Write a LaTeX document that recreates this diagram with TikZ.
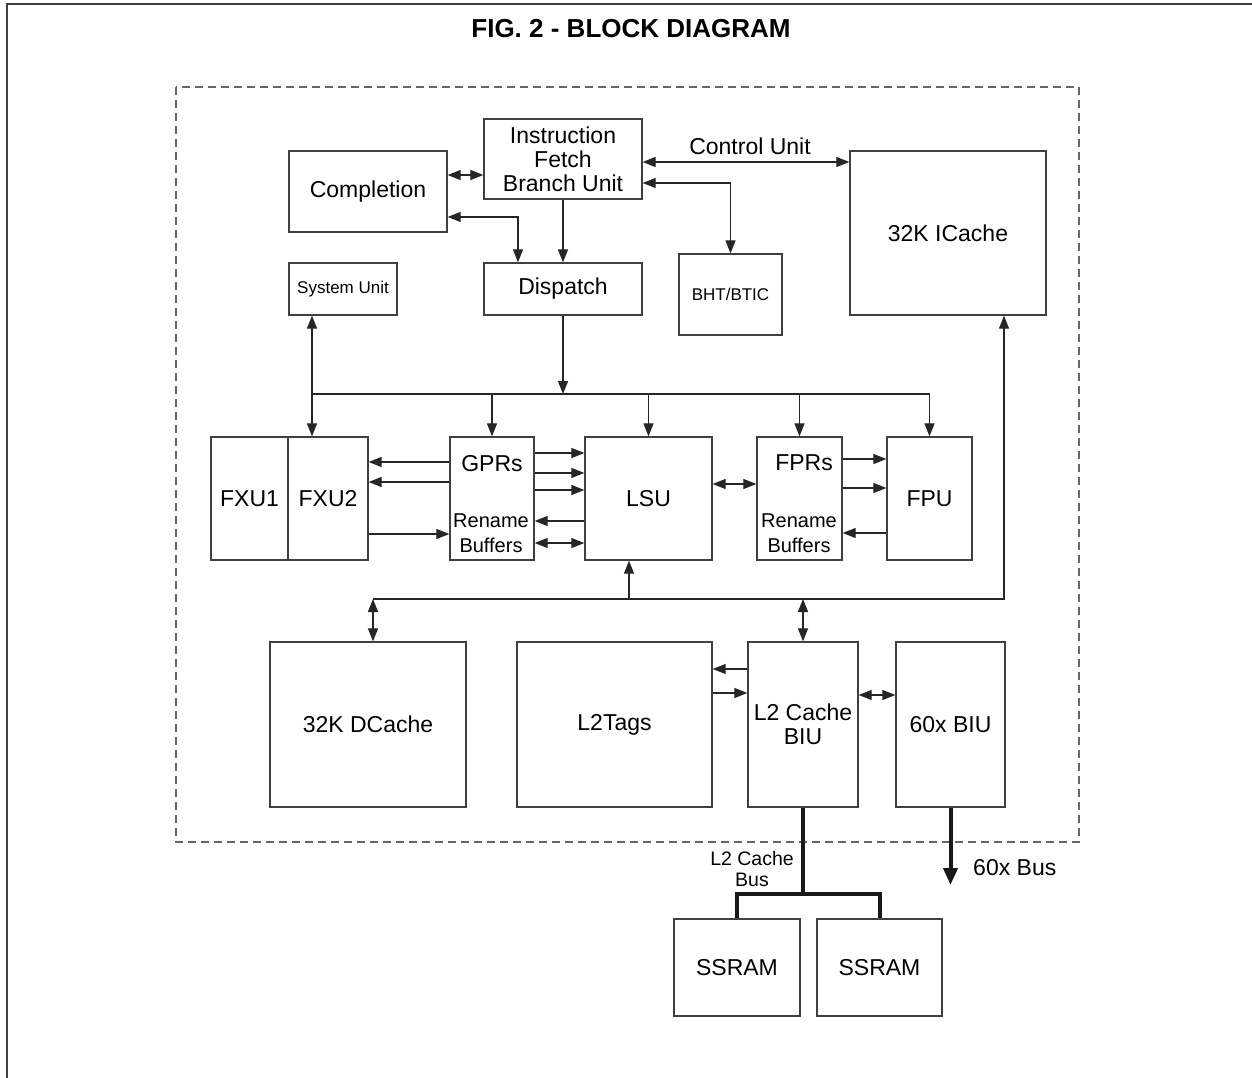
\documentclass[tikz,border=0pt]{standalone}
\usepackage{fontspec}
\setmainfont{Liberation Sans}
\usetikzlibrary{arrows.meta,calc}
\begin{document}
\begin{tikzpicture}[x=1pt,y=-1pt,
  box/.style={draw=black!75, line width=1.3pt, inner sep=0pt, align=center,
    font=\fontsize{23}{24}\selectfont},
  lbl/.style={inner sep=0pt, font=\fontsize{23}{24}\selectfont},
  small/.style={inner sep=0pt, font=\fontsize{20}{21}\selectfont},
  conn/.style={draw=black!85, line width=1.2pt},
  arr/.style={conn, -{Triangle[length=13pt,width=10pt]}},
  darr/.style={conn, {Triangle[length=13pt,width=10pt]}-{Triangle[length=13pt,width=10pt]}},
  busline/.style={draw=black!90, line width=4pt, line join=miter},
  busarr/.style={busline, -{Triangle[length=17pt,width=14pt]}}
]
\useasboundingbox (0,0) rectangle (1252,1078);
% page frame
\draw[black!75, line width=2pt] (7,1078) -- (7,4) -- (1252,4);
% title
\node[inner sep=0pt, font=\fontsize{26}{28}\selectfont\bfseries] (title) at (631,29) {FIG. 2 - BLOCK DIAGRAM};
% dashed chip outline
\draw[black!60, line width=1.3pt, dash pattern=on 8pt off 5pt] (176,87) rectangle (1079,842);

% boxes
\node[box, minimum width=158pt, minimum height=81pt] (comp) at (368,191.5) {Completion};
\node[box, minimum width=158pt, minimum height=80pt] (ifu) at (563,159) {Instruction\\Fetch\\Branch Unit};
\node[box, minimum width=158pt, minimum height=52pt] (disp) at (563,289) {Dispatch};
\node[box, minimum width=108pt, minimum height=52pt, font=\fontsize{17}{18}\selectfont] (sys) at (343,289) {System Unit};
\node[box, minimum width=103pt, minimum height=81pt, font=\fontsize{17}{18}\selectfont] (bht) at (730.5,294.5) {BHT/BTIC};
\node[box, minimum width=196pt, minimum height=164pt] (ic) at (948,233) {32K ICache};

\node[box, minimum width=77pt, minimum height=123pt] (fxu1) at (249.5,498.5) {FXU1};
\node[box, minimum width=80pt, minimum height=123pt] (fxu2) at (328,498.5) {FXU2};
\node[box, minimum width=84pt, minimum height=123pt] (gpr) at (492,498.5) {};
\node[box, minimum width=127pt, minimum height=123pt] (lsu) at (648.5,498.5) {LSU};
\node[box, minimum width=85pt, minimum height=123pt] (fpr) at (799.5,498.5) {};
\node[box, minimum width=85pt, minimum height=123pt] (fpu) at (929.5,498.5) {FPU};

\node[lbl] (gprt) at (492,464) {GPRs};
\node[small] (gprr) at (491,521) {Rename};
\node[small] (gprb) at (491,545) {Buffers};
\node[lbl] (fprt) at (804,463) {FPRs};
\node[small] (fprr) at (799,521) {Rename};
\node[small] (fprb) at (799,545) {Buffers};

\node[box, minimum width=196pt, minimum height=165pt] (dc) at (368,724.5) {32K DCache};
\node[box, minimum width=195pt, minimum height=165pt] (l2t) at (614.5,724.5) {L2Tags};
\node[box, minimum width=110pt, minimum height=165pt] (l2b) at (803,724.5) {L2 Cache\\BIU};
\node[box, minimum width=109pt, minimum height=165pt] (biu) at (950.5,724.5) {60x BIU};

\node[box, minimum width=126pt, minimum height=97pt] (ss1) at (737,967.5) {SSRAM};
\node[box, minimum width=125pt, minimum height=97pt] (ss2) at (879.5,967.5) {SSRAM};

% labels
\node[lbl] (cu) at (750,146) {Control Unit};
\node[small, align=center, font=\fontsize{19.5}{21}\selectfont] (l2bus) at (752,869) {L2 Cache\\Bus};
\node[lbl, anchor=west] (bus60) at (973,868) {60x Bus};

% upper connectors
\draw[darr] (comp.east |- 0,175) -- (ifu.west |- 0,175);
\draw[darr] (comp.east |- 0,217) -| (disp.north -| 518,0);
\draw[arr] (ifu.south) -- (disp.north);
\draw[darr] (ifu.east |- 0,162) -- (ic.west |- 0,162);
\draw[darr] (ifu.east |- 0,183) -| (bht.north);

% dispatch bus
\coordinate (busL) at (312,394);
\coordinate (busR) at (fpu.north |- busL);
\draw[conn] (busL) -- (busR);
\draw[arr] (disp.south) -- (disp.south |- busL);
\draw[darr] (sys.south -| busL) -- (fxu2.north -| busL);
\draw[arr] (gpr.north |- busL) -- (gpr.north);
\draw[arr] (lsu.north |- busL) -- (lsu.north);
\draw[arr] (fpr.north |- busL) -- (fpr.north);
\draw[arr] (busR) -- (fpu.north);

% execution unit connectors
\draw[arr] (gpr.west |- 0,462) -- (fxu2.east |- 0,462);
\draw[arr] (gpr.west |- 0,482) -- (fxu2.east |- 0,482);
\draw[arr] (fxu2.east |- 0,534) -- (gpr.west |- 0,534);
\draw[arr] (gpr.east |- 0,453) -- (lsu.west |- 0,453);
\draw[arr] (gpr.east |- 0,473) -- (lsu.west |- 0,473);
\draw[arr] (gpr.east |- 0,490) -- (lsu.west |- 0,490);
\draw[arr] (lsu.west |- 0,521) -- (gpr.east |- 0,521);
\draw[darr] (gpr.east |- 0,543) -- (lsu.west |- 0,543);
\draw[darr] (lsu.east |- 0,484) -- (fpr.west |- 0,484);
\draw[arr] (fpr.east |- 0,459) -- (fpu.west |- 0,459);
\draw[arr] (fpr.east |- 0,488) -- (fpu.west |- 0,488);
\draw[arr] (fpu.west |- 0,533) -- (fpr.east |- 0,533);

% lower bus
\coordinate (lbL) at (373,599);
\coordinate (lbR) at (1004,599);
\draw[arr] (lbL) -- (lbR) -- (ic.south -| lbR);
\draw[darr] (lbL) -- (dc.north -| lbL);
\draw[arr] (lbL -| 629,0) -- (lsu.south -| 629,0);
\draw[darr] (l2b.north |- lbL) -- (l2b.north);

\draw[arr] (l2b.west |- 0,669) -- (l2t.east |- 0,669);
\draw[arr] (l2t.east |- 0,693) -- (l2b.west |- 0,693);
\draw[darr] (l2b.east |- 0,695) -- (biu.west |- 0,695);

% external buses
\coordinate (bj) at (l2b.south |- 0,894);
\draw[busline] (l2b.south) -- (bj);
\draw[busline] (ss1.north) |- (bj) -| (ss2.north);
\coordinate (b60) at (biu.south |- 0,885);
\draw[busarr] (biu.south) -- (b60);
\end{tikzpicture}
\end{document}
